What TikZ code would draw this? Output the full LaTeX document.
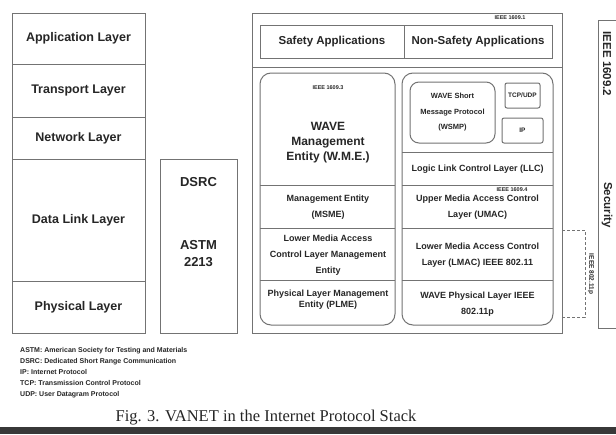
\documentclass[tikz,border=0pt]{standalone}
\usepackage{fontspec}
\setmainfont{Liberation Sans}
\newfontfamily\capfont{Liberation Serif}
\usetikzlibrary{positioning}

\begin{document}
\begin{tikzpicture}[x=1pt, y=-1pt, node distance=0pt, every node/.style={text=black!85, font=\bfseries},
    box/.style={draw=black!55, line width=1pt, outer sep=0pt, inner sep=1pt, align=center},
    layer/.style={box, minimum width=133pt, font=\fontsize{12.5}{15}\selectfont\bfseries},
    app/.style={box, minimum height=33pt, font=\fontsize{11.5}{14}\selectfont\bfseries},
    rbox/.style={box, rounded corners=11pt},
    cell/.style={align=center, font=\fontsize{9}{16}\selectfont\bfseries},
    tiny/.style={font=\fontsize{5.5}{7}\selectfont\bfseries},
    line/.style={draw=black!55, line width=1pt}]
    \path[use as bounding box, fill=white] (0,0) rectangle (616,434);
    \node[layer, minimum height=51pt, anchor=north west] (app) at (12,13) {Application Layer};
    \node[layer, minimum height=53pt, below=of app] (trans) {Transport Layer};
    \node[layer, minimum height=42pt, below=of trans] (net) {Network Layer};
    \node[layer, minimum height=122pt, below=of net] (dll) {Data Link Layer};
    \node[layer, minimum height=52pt, below=of dll] (phy) {Physical Layer};
    \node[box, minimum width=77pt, minimum height=174pt, anchor=north west] (dsrc) at (160,159) {};
    \node[font=\fontsize{13}{17}\selectfont\bfseries] (dsrcname) at (198.5,182) {DSRC};
    \node[font=\fontsize{13}{17}\selectfont\bfseries, align=center] (astm) at (198.5,254) {ASTM\\2213};
    \node[box, minimum width=310pt, minimum height=320pt, anchor=north west] (stack) at (252,13) {};
    \node[tiny] (ieeeone) at (510,18) {IEEE 1609.1};
    \node[app, minimum width=144pt, anchor=north west] (safe) at (260,25) {Safety Applications};
    \node[app, minimum width=148pt, right=of safe] (nonsafe) {Non-Safety Applications};
    \draw[line] (stack.west |- 0,67) -- (stack.east |- 0,67);
    \node[rbox, minimum width=135pt, minimum height=252pt, anchor=north west] (wme) at (260,73) {};
    \node[rbox, minimum width=151pt, minimum height=252pt, anchor=north west] (wave) at (402,73) {};
    \foreach \y in {185,228,280} {
      \draw[line] (wme.west |- 0,\y) -- (wme.east |- 0,\y);
      \draw[line] (wave.west |- 0,\y) -- (wave.east |- 0,\y);
    }
    \draw[line] (wave.west |- 0,152) -- (wave.east |- 0,152);
    \node[tiny] (ieeethree) at (328,88) {IEEE 1609.3};
    \node[font=\fontsize{12}{15}\selectfont\bfseries, align=center] (wmename) at (328,143) {WAVE\\Management\\Entity (W.M.E.)};
    \node[cell] (msme) at (328,207) {Management Entity\\(MSME)};
    \node[cell] (lmlme) at (328,255) {Lower Media Access\\Control Layer Management\\Entity};
    \node[cell, font=\fontsize{9}{11}\selectfont\bfseries] (plme) at (328,300) {Physical Layer Management\\Entity (PLME)};
    \node[rbox, rounded corners=9pt, minimum width=85pt, minimum height=61pt, font=\fontsize{7.5}{15.5}\selectfont\bfseries] (wsmp) at (452.5,112.5) {WAVE Short\\Message Protocol\\(WSMP)};
    \node[box, rounded corners=2pt, minimum width=35pt, minimum height=25pt, font=\fontsize{6.5}{8}\selectfont\bfseries] (tcp) at (522.5,95.5) {TCP/UDP};
    \node[box, rounded corners=2pt, minimum width=41pt, minimum height=25pt, font=\fontsize{6.5}{8}\selectfont\bfseries] (ip) at (522.5,130.5) {IP};
    \node[cell] (llc) at (477.5,169) {Logic Link Control Layer (LLC)};
    \node[tiny] (ieeefour) at (512,190) {IEEE 1609.4};
    \node[cell] (umac) at (477.5,207) {Upper Media Access Control\\Layer (UMAC)};
    \node[cell] (lmac) at (477.5,255) {Lower Media Access Control\\Layer (LMAC) IEEE 802.11};
    \node[cell] (wavephy) at (477.5,304) {WAVE Physical Layer IEEE\\802.11p};
    \coordinate (brtop) at (585,230);
    \coordinate (brbot) at (585,317);
    \draw[line, line width=0.7pt, densely dashed] (stack.east |- brtop) -- (brtop) -- (brbot) -- (stack.east |- brbot);
    \node[tiny, font=\fontsize{6.5}{8}\selectfont\bfseries, rotate=-90] (brlabel) at (591,274) {IEEE 802.11p};
    \node[box, minimum width=40pt, minimum height=308pt, anchor=north west] (sec) at (598,20) {};
    \node[font=\fontsize{11.5}{14}\selectfont\bfseries, rotate=-90] (ieeetwo) at (607,64) {IEEE 1609.2};
    \node[font=\fontsize{11.5}{14}\selectfont\bfseries, rotate=-90] (security) at (607,205) {Security};
    \node[anchor=north west, align=left, inner sep=0pt, font=\fontsize{7}{11}\selectfont\bfseries] (legend) at (20,347) {ASTM: American Society for Testing and Materials\\DSRC: Dedicated Short Range Communication\\IP: Internet Protocol\\TCP: Transmission Control Protocol\\UDP: User Datagram Protocol};
    \node[font=\capfont\fontsize{16.5}{18}\selectfont] (caption) at (266,418) {Fig. 3. VANET in the Internet Protocol Stack};
    \fill[black!78] (0,427) rectangle (616,434);
  \end{tikzpicture}
\end{document}
